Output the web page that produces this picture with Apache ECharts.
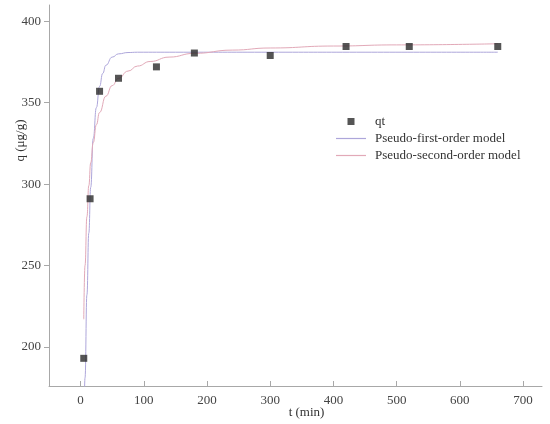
<!DOCTYPE html>
<html lang="en" style="height: 100%">
<head>
  <meta charset="utf-8">
</head>
<body style="height: 100%; margin: 0">
  <div id="container" style="height: 100%"></div>

  <script type="text/javascript" src="https://cdn.jsdelivr.net/npm/echarts@6/dist/echarts.min.js"></script>

  <script type="text/javascript">
    var dom = document.getElementById('container');
    var myChart = echarts.init(dom, null, { renderer: 'canvas' });

    // measured points
    var tMeasured = [5, 15, 30, 60, 120, 180, 300, 420, 520, 660];
    var qMeasured = [193, 291, 357, 365, 372, 380.5, 379, 384.5, 384.5, 384.5];

    // fitted curves
    var tFirst = [5, 7, 10, 13, 16, 20, 25, 30, 35, 40, 50, 60, 75, 90, 150, 300, 450, 660];
    var qFirst = [140, 181, 232, 270, 298, 328, 347, 360, 368, 373, 378, 380, 380.8, 381, 381, 381, 381, 381];

    var tSecond = [5, 7, 10, 13, 16, 20, 25, 30, 40, 50, 60, 75, 90, 110, 140, 180, 240, 300, 400, 500, 660];
    var qSecond = [217, 250, 280, 299, 313, 325.5, 336.5, 344, 354, 360.5, 365, 369.4, 372.5, 375.3, 378, 380.3, 382.3, 383.6, 384.8, 385.5, 386.2];

    var xTicks = [0, 100, 200, 300, 400, 500, 600, 700];
    var yTicks = [200, 250, 300, 350, 400];

    function pairs(xs, ys) {
      return xs.map(function (x, i) { return [x, ys[i]]; });
    }

    var font = 'Liberation Serif';
    var axisGray = '#a8a8a8';
    var firstColor = '#ada6da';
    var secondColor = '#e2a9b8';

    var option = {
      animation: false,
      backgroundColor: '#ffffff',
      grid: { left: 49, right: 8, top: 5, bottom: 38, outerBoundsMode: 'none' },
      legend: {
        orient: 'vertical',
        left: 331,
        top: 110,
        itemWidth: 30,
        itemHeight: 7,
        itemGap: 4,
        textStyle: { fontFamily: font, fontSize: 13, color: '#333', padding: [0, 0, 0, 4] },
        data: [
          { name: 'qt', icon: 'path://M0,0L1,0L1,1L0,1Z', itemStyle: { color: '#2a2a2a' } },
          { name: 'Pseudo-first-order model', icon: 'path://M0,0L30,0L30,1.2L0,1.2Z', itemStyle: { color: firstColor } },
          { name: 'Pseudo-second-order model', icon: 'path://M0,0L30,0L30,1.2L0,1.2Z', itemStyle: { color: secondColor } }
        ]
      },
      xAxis: {
        type: 'value',
        min: -50,
        max: 730,
        name: 't (min)',
        nameLocation: 'middle',
        nameGap: 20,
        nameMoveOverlap: false,
        nameTextStyle: { fontFamily: font, fontSize: 13, color: '#333', padding: [0, 0, 0, 22] },
        splitLine: { show: false },
        axisLine: { onZero: false, lineStyle: { color: axisGray } },
        axisTick: { show: true, inside: true, length: 5, customValues: xTicks, lineStyle: { color: axisGray } },
        axisLabel: { customValues: xTicks, fontFamily: font, fontSize: 13, color: '#444', margin: 8 }
      },
      yAxis: {
        type: 'value',
        min: 176,
        max: 410,
        name: 'q (\u03bcg/g)',
        nameLocation: 'middle',
        nameGap: 22,
        nameMoveOverlap: false,
        nameTextStyle: { fontFamily: font, fontSize: 13, color: '#333', padding: [0, 0, 0, 110] },
        splitLine: { show: false },
        axisLine: { show: true, onZero: false, lineStyle: { color: axisGray } },
        axisTick: { show: true, length: 5, customValues: yTicks, lineStyle: { color: axisGray } },
        axisLabel: { customValues: yTicks, fontFamily: font, fontSize: 13, color: '#444', margin: 8 }
      },
      series: [
        {
          name: 'qt',
          type: 'scatter',
          symbol: 'rect',
          symbolSize: 7,
          itemStyle: { color: '#2a2a2a' },
          data: pairs(tMeasured, qMeasured),
          z: 5
        },
        {
          name: 'Pseudo-first-order model',
          type: 'line',
          symbol: 'none',
          smooth: 0.5,
          smoothMonotone: 'x',
          lineStyle: { color: firstColor, width: 1 },
          itemStyle: { color: firstColor },
          data: pairs(tFirst, qFirst)
        },
        {
          name: 'Pseudo-second-order model',
          type: 'line',
          symbol: 'none',
          smooth: 0.5,
          smoothMonotone: 'x',
          lineStyle: { color: secondColor, width: 1 },
          itemStyle: { color: secondColor },
          data: pairs(tSecond, qSecond)
        }
      ]
    };

    myChart.setOption(option);
    window.addEventListener('resize', myChart.resize);
  </script>
</body>
</html>
